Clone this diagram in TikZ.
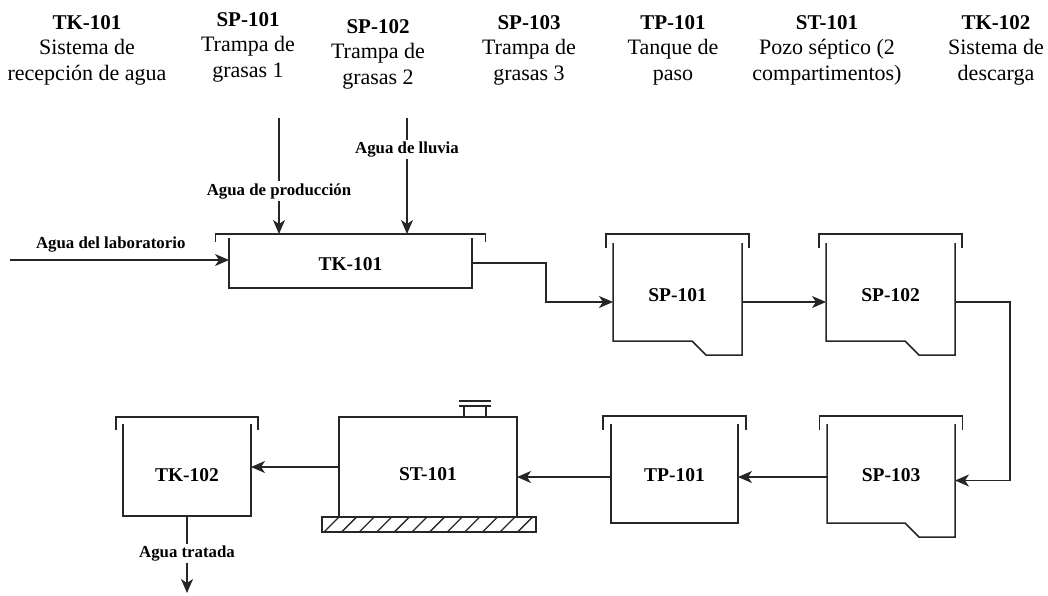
\documentclass[tikz,border=0pt]{standalone}
\usepackage{fontspec}
\setmainfont{Liberation Serif}
\usetikzlibrary{arrows.meta,positioning,calc}

\tikzset{
  wall/.style={line width=1.5pt, black!85},
  flow/.style={line width=1.5pt, black!85, -{Stealth[length=14pt,width=12pt,inset=4pt]}},
  tankbox/.style={inner sep=0pt, outer sep=0pt},
  tag/.style={font=\fontsize{19.5}{23}\selectfont\bfseries, inner sep=0pt, text=black},
  headtitle/.style={font=\fontsize{21}{25}\selectfont\bfseries, inner sep=0pt},
  headtext/.style={font=\fontsize{22}{26}\selectfont, inner sep=0pt},
  stream/.style={font=\fontsize{16.8}{20}\selectfont\bfseries, fill=white, inner sep=2pt, text=black},
}

% lid of an open tank: node, overhang, rise, drop
\newcommand{\tanklid}[4]{%
  \draw[wall] ($(#1.north west)+(-#2,#4)$) -- ++(0,-#3-#4) -| ($(#1.north east)+(#2,#4)$);}
% open walls
\newcommand{\tankwalls}[1]{%
  \draw[wall] (#1.north west) -- (#1.south west) -- (#1.south east) -- (#1.north east);}
% open walls with the sloped outlet step
\newcommand{\trapwalls}[1]{%
  \draw[wall] (#1.north west) -- ($(#1.south west)+(0,-14)$) -- ($(#1.south east)+(-50,-14)$)
    -- ($(#1.south east)+(-36,0)$) -- (#1.south east) -- (#1.north east);}

\begin{document}
\begin{tikzpicture}[x=1pt, y=-1pt, >=Stealth]
  \useasboundingbox (0,0) rectangle (1048,595);

  % headings
  \foreach \hx/\hy/\hname/\hla/\hlb in {87/0/TK-101/Sistema de/recepción de agua,
      248/-3/SP-101/Trampa de/grasas 1, 378/4/SP-102/Trampa de/grasas 2,
      529/0/SP-103/Trampa de/grasas 3, 673/0/TP-101/Tanque de/paso,
      827/0/ST-101/Pozo séptico (2/compartimentos), 996/0/TK-102/Sistema de/descarga}{
    \node[headtitle, anchor=base] (h-\hname) at (\hx,29+\hy) {\hname};
    \node[headtext, anchor=base] (h-\hname-a) at (\hx,54+\hy) {\hla};
    \node[headtext, anchor=base] (h-\hname-b) at (\hx,80+\hy) {\hlb};
  }

  % units
  \node[tankbox, minimum width=243, minimum height=50, label={[tag, yshift=-1pt]center:TK-101}] (tk1) at (350.5,263) {};
  \node[tankbox, minimum width=129, minimum height=112, label={[tag, yshift=4pt]center:SP-101}] (sp1) at (677.5,299) {};
  \node[tankbox, minimum width=129, minimum height=112, label={[tag, yshift=4pt]center:SP-102}] (sp2) at (890.5,299) {};
  \node[tankbox, minimum width=128, minimum height=113, label={[tag, yshift=5.5pt]center:SP-103}] (sp3) at (891,480.5) {};
  \node[tankbox, minimum width=127, minimum height=99, label={[tag, yshift=-1.5pt]center:TP-101}] (tp1) at (674.5,473.5) {};
  \node[tankbox, wall, draw, minimum width=178, minimum height=100, label={[tag, yshift=-7.5pt]center:ST-101}] (st1) at (428,467) {};
  \node[tankbox, minimum width=128, minimum height=92, label={[tag, yshift=-5pt]center:TK-102}] (tk2) at (187,470) {};

  \tankwalls{tk1} \tanklid{tk1}{13.5}{4}{4}
  \trapwalls{sp1} \tanklid{sp1}{7}{9}{5}
  \trapwalls{sp2} \tanklid{sp2}{7}{9}{5}
  \trapwalls{sp3} \tanklid{sp3}{7.5}{8}{6}
  \tankwalls{tp1} \tanklid{tp1}{8}{8}{6}
  \tankwalls{tk2} \tanklid{tk2}{7}{7}{6}

  % septic tank base and manhole
  \node[tankbox, wall, draw, minimum width=214, minimum height=15, anchor=north] (gnd) at ($(st1.south)+(1,0)$) {};
  \begin{scope}
    \clip (gnd.south west) rectangle (gnd.north east);
    \foreach \k in {0,...,12}
      \draw[wall, line width=1.3pt] ($(gnd.south west)+(2+17.6*\k,0)$) -- ++(15,-15);
  \end{scope}
  \node[tankbox, wall, draw, minimum width=22, minimum height=11, anchor=south] (mh) at ($(st1.north)+(47,0)$) {};
  \draw[wall] ($(mh.north west)+(-5,0)$) -- ($(mh.north east)+(5,0)$);
  \draw[wall] ($(mh.north west)+(-5,-5)$) -- ($(mh.north east)+(5,-5)$);

  % incoming streams
  \coordinate (inLab) at (10,260);
  \coordinate (inProd) at (279,118);
  \coordinate (inRain) at (407,118);
  \coordinate (tk1lid) at ($(tk1.north)+(0,-4)$);
  \coordinate (outTreated) at (187,593);
  \draw[flow] (inLab) -- (inLab -| tk1.west) node[stream, fill=none, pos=0.46, above=5pt] {Agua del laboratorio};
  \draw[flow] (inProd) -- (inProd |- tk1lid) node[stream, pos=0.63] {Agua de producción};
  \draw[flow] (inRain) -- (inRain |- tk1lid) node[stream, pos=0.27] {Agua de lluvia};

  % process line
  \draw[flow] (tk1.east) -- ++(74,0) |- ([yshift=-3pt]sp1.west);
  \draw[flow] ([yshift=-3pt]sp1.east) -- ([yshift=-3pt]sp2.west);
  \draw[flow] ([yshift=-3pt]sp2.east) -- ++(55,0) |- (sp3.east);
  \draw[flow] ([yshift=3.5pt]sp3.west) -- ([yshift=-3.5pt]tp1.east);
  \draw[flow] ([yshift=-3.5pt]tp1.west) -- ([yshift=-10pt]st1.east);
  \draw[flow] (st1.west) -- ([yshift=3pt]tk2.east);
  \draw[flow] (tk2.south) -- (outTreated) node[stream, pos=0.49] {Agua tratada};
\end{tikzpicture}
\end{document}
